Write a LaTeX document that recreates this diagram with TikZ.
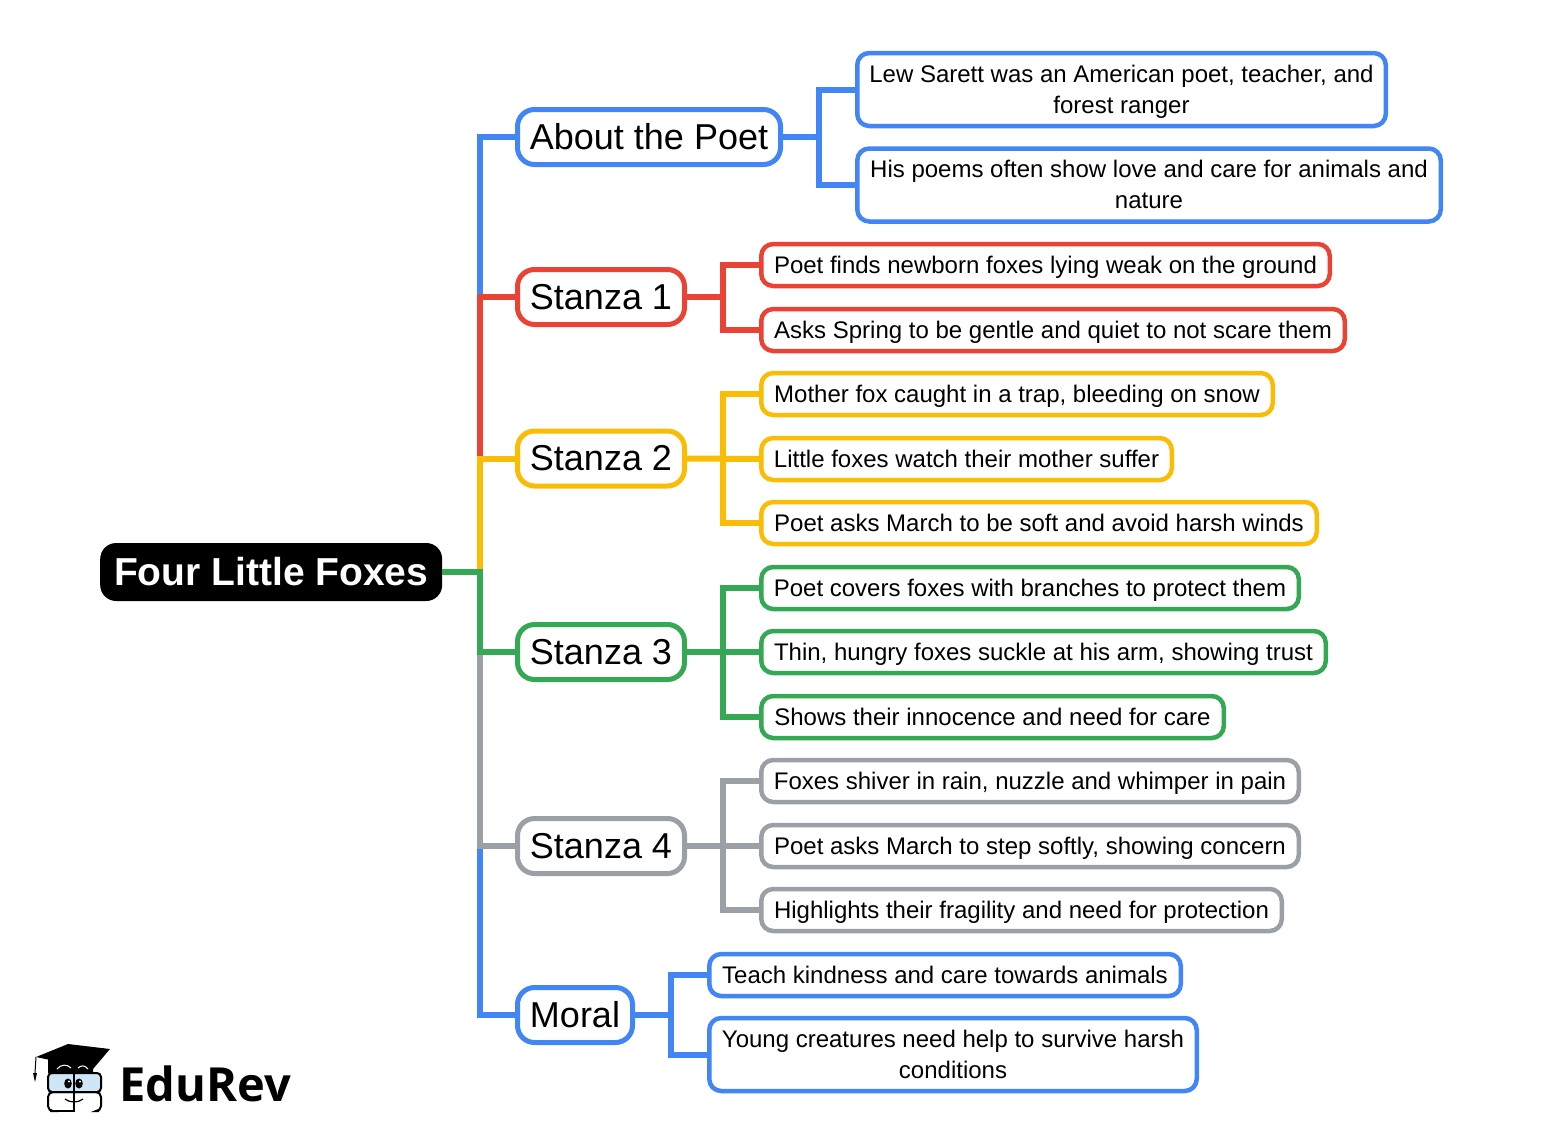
\documentclass[tikz,border=0pt]{standalone}
\usepackage{fontspec}
\setmainfont{Liberation Sans}
\newfontfamily\logofont{Open Sans}
\usepackage{tikz}
\definecolor{mapblue}{HTML}{4285F4}
\definecolor{mapred}{HTML}{EA4335}
\definecolor{mapyellow}{HTML}{FBBC05}
\definecolor{mapgreen}{HTML}{34A853}
\definecolor{mapgrey}{HTML}{9AA0A6}
\definecolor{glassblue}{HTML}{CFE6F7}
\tikzset{root/.style = {fill = black, text = white, rounded corners = 16, inner sep = 0, anchor = west, minimum height = 58, font = \fontsize{39}{44}\selectfont\bfseries, text height = 34, text depth = 8}}
\tikzset{branch/.style = {draw, fill = white, line width = 5, rounded corners = 17, inner sep = 0, anchor = west, minimum height = 55, font = \fontsize{36}{44}\selectfont, text height = 32, text depth = 8}}
\tikzset{leaf/.style = {draw, fill = white, line width = 4.5, rounded corners = 12, inner sep = 0, anchor = west, minimum height = 42, font = \fontsize{24}{31}\selectfont, text height = 22, text depth = 6}}
\tikzset{leaftwo/.style = {draw, fill = white, line width = 4.5, rounded corners = 12, inner sep = 0, anchor = west, minimum height = 73, align = center, font = \fontsize{24}{31}\selectfont, text height = 53, text depth = 6}}
\tikzset{link/.style = {line width = 6}}

\begin{document}
\begin{tikzpicture}[x = 1pt, y = -1pt]
  \useasboundingbox (0, 0) rectangle (1544, 1144);

  \node [root, minimum width = 342] (foxes) at (100, 572) {Four Little Foxes};

  \node [branch, draw = mapblue, minimum width = 263] (poet) at (515, 137) {About the Poet};
  \node [branch, draw = mapred, minimum width = 167] (one) at (515, 297) {Stanza 1};
  \node [branch, draw = mapyellow, minimum width = 167] (two) at (515, 458.5) {Stanza 2};
  \node [branch, draw = mapgreen, minimum width = 167] (three) at (515, 652) {Stanza 3};
  \node [branch, draw = mapgrey, minimum width = 167] (four) at (515, 846) {Stanza 4};
  \node [branch, draw = mapblue, minimum width = 115] (moral) at (515, 1015) {Moral};

  \node [leaftwo, draw = mapblue, minimum width = 528.5] (poetA) at (855, 89.5) {Lew Sarett was an American poet, teacher, and\\forest ranger};
  \node [leaftwo, draw = mapblue, minimum width = 583.5] (poetB) at (855, 185) {His poems often show love and care for animals and\\nature};

  \node [leaf, draw = mapred, minimum width = 568.5] (oneA) at (759, 265) {Poet finds newborn foxes lying weak on the ground};
  \node [leaf, draw = mapred, minimum width = 583.5] (oneB) at (759, 330) {Asks Spring to be gentle and quiet to not scare them};

  \node [leaf, draw = mapyellow, minimum width = 511.5] (twoA) at (759, 394) {Mother fox caught in a trap, bleeding on snow};
  \node [leaf, draw = mapyellow, minimum width = 410.5] (twoB) at (759, 459) {Little foxes watch their mother suffer};
  \node [leaf, draw = mapyellow, minimum width = 555.5] (twoC) at (759, 523) {Poet asks March to be soft and avoid harsh winds};

  \node [leaf, draw = mapgreen, minimum width = 537.5] (threeA) at (759, 588) {Poet covers foxes with branches to protect them};
  \node [leaf, draw = mapgreen, minimum width = 564.5] (threeB) at (759, 652) {Thin, hungry foxes suckle at his arm, showing trust};
  \node [leaf, draw = mapgreen, minimum width = 462.5] (threeC) at (759, 717) {Shows their innocence and need for care};

  \node [leaf, draw = mapgrey, minimum width = 537.5] (fourA) at (759, 781) {Foxes shiver in rain, nuzzle and whimper in pain};
  \node [leaf, draw = mapgrey, minimum width = 537.5] (fourB) at (759, 846) {Poet asks March to step softly, showing concern};
  \node [leaf, draw = mapgrey, minimum width = 520.5] (fourC) at (759, 910) {Highlights their fragility and need for protection};

  \node [leaf, draw = mapblue, minimum width = 471.5] (moralA) at (707, 975) {Teach kindness and care towards animals};
  \node [leaftwo, draw = mapblue, minimum width = 487.5] (moralB) at (707, 1054.5) {Young creatures need help to survive harsh\\conditions};

  \coordinate (trunk) at (480, 572);
  \coordinate (poetjoin) at (819, 137);
  \coordinate (onejoin) at (723, 297);
  \coordinate (twojoin) at (723, 458.5);
  \coordinate (threejoin) at (723, 652);
  \coordinate (fourjoin) at (723, 846);
  \coordinate (moraljoin) at (671, 1015);

  % outer branches first, the inner ones lie on top
  \draw [link, mapblue] (foxes.east) -- (trunk) |- (poet.west);
  \draw [link, mapred] (foxes.east) -- (trunk) |- (one.west);
  \draw [link, mapyellow] (foxes.east) -- (trunk) |- (two.west);
  \draw [link, mapblue] (foxes.east) -- (trunk) |- (moral.west);
  \draw [link, mapgrey] (foxes.east) -- (trunk) |- (four.west);
  \draw [link, mapgreen] (foxes.east) -- (trunk) |- (three.west);

  \draw [link, mapblue] (poet.east) -- (poetjoin) |- (poetA.west);
  \draw [link, mapblue] (poetjoin) |- (poetB.west);

  \draw [link, mapred] (one.east) -- (onejoin) |- (oneA.west);
  \draw [link, mapred] (onejoin) |- (oneB.west);

  \draw [link, mapyellow] (two.east) -- (twoB.west);
  \draw [link, mapyellow] (twojoin) |- (twoA.west);
  \draw [link, mapyellow] (twojoin) |- (twoC.west);

  \draw [link, mapgreen] (three.east) -- (threeB.west);
  \draw [link, mapgreen] (threejoin) |- (threeA.west);
  \draw [link, mapgreen] (threejoin) |- (threeC.west);

  \draw [link, mapgrey] (four.east) -- (fourB.west);
  \draw [link, mapgrey] (fourjoin) |- (fourA.west);
  \draw [link, mapgrey] (fourjoin) |- (fourC.west);

  \draw [link, mapblue] (moral.east) -- (moraljoin) |- (moralA.west);
  \draw [link, mapblue] (moraljoin) |- (moralB.west);

  % logo
  \fill [black] (48, 1058) -- (48, 1073) -- (93, 1073) -- (93, 1062) -- cycle;
  \fill [black] (36, 1057) -- (68, 1044) -- (110, 1049) -- (93, 1069) -- cycle;
  \draw [line width = 1] (36, 1057) -- (35, 1073);
  \fill [black] (33, 1073) -- (37, 1073) -- (35, 1082) -- cycle;
  \draw [white, line width = 1] (57, 1069) .. controls (61, 1064) and (67, 1064) .. (71, 1068);
  \draw [white, line width = 1] (78, 1068) .. controls (81, 1065) and (85, 1065) .. (88, 1069);
  \draw [black, fill = glassblue, line width = 2, rounded corners = 4] (48, 1073) rectangle (101, 1092);
  \draw [black, line width = 2, rounded corners = 5] (50, 1111) -- (48, 1111) -- (48, 1092) -- (101, 1092) -- (101, 1111) -- (99, 1111);
  \draw [black, line width = 1.5] (50, 1111) -- (74, 1111);
  \draw [black, line width = 1.5] (74, 1073) -- (74, 1112);
  \fill [black] (68, 1083.5) ellipse (3.8 and 5);
  \fill [black] (79, 1083.5) ellipse (3.8 and 5);
  \fill [white] (69, 1081.5) circle (1.2);
  \fill [white] (80, 1081.5) circle (1.2);
  \draw [black, line width = 1.2] (65, 1099) .. controls (70, 1103) and (78, 1103) .. (83, 1099);
  \node [inner sep = 0, anchor = base west, font = \fontsize{47}{47}\logofont\bfseries] (edurev) at (119, 1101) {EduRev};
\end{tikzpicture}
\end{document}
